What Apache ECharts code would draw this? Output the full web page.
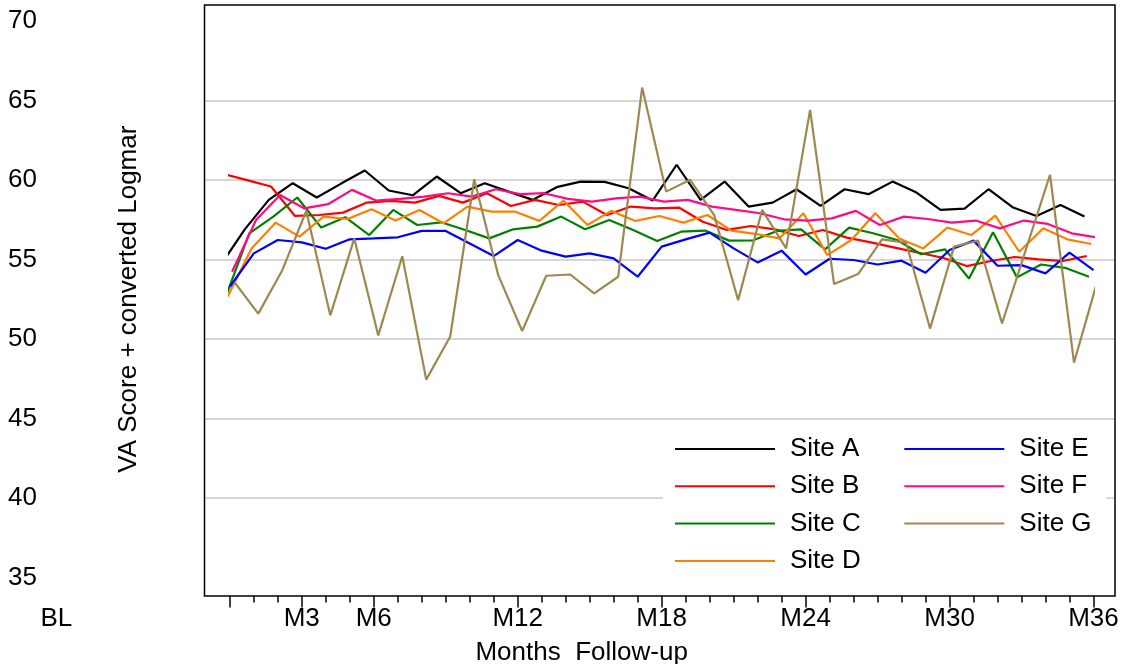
<!DOCTYPE html>
<html><head><meta charset="utf-8">
<script src="https://cdn.jsdelivr.net/npm/echarts@6/dist/echarts.min.js"></script>
<style>html,body{margin:0;padding:0;background:#fff}#c{width:1124px;height:664px}</style>
</head><body><div id="c"></div>
<script>
const months = [0,1,2,3,4,5,6,7,8,9,10,11,12,13,14,15,16,17,18,19,20,21,22,23,24,25,26,27,28,29,30,31,32,33,34,35,36];
const tickLabels = ['BL','M1','M2','M3','M4','M5','M6','M7','M8','M9','M10','M11','M12','M13','M14','M15','M16','M17','M18','M19','M20','M21','M22','M23','M24','M25','M26','M27','M28','M29','M30','M31','M32','M33','M34','M35','M36'];
const majorTicks = [0,3,6,12,18,24,30,36];
const siteNames = ['Site A','Site B','Site C','Site D','Site E','Site F','Site G'];
const siteColors = ['#000000','#ff0000','#008000','#ff8000','#0000ff','#ff0a84','#9c8850'];

const siteA = [54.64,56.89,58.74,59.79,58.89,59.75,60.59,59.33,59.03,60.21,59.16,59.79,59.26,58.74,59.54,59.89,59.87,59.47,58.70,60.95,58.74,59.89,58.32,58.57,59.41,58.36,59.41,59.10,59.89,59.20,58.11,58.19,59.41,58.28,57.73,58.42,57.69];
const siteB = [60.38,59.98,59.58,57.73,57.79,57.94,58.57,58.68,58.57,58.99,58.57,59.16,58.36,58.74,58.42,58.63,57.79,58.32,58.21,58.26,57.37,56.85,57.10,56.89,56.47,56.85,56.37,56.07,55.74,55.42,55.10,54.58,54.90,55.15,55.00,54.90,55.21];
const siteC = [52.58,56.64,57.69,58.89,57.00,57.65,56.53,58.11,57.16,57.33,56.85,56.32,56.89,57.06,57.69,56.89,57.48,56.85,56.16,56.74,56.81,56.18,56.20,56.79,56.89,55.63,57.00,56.64,56.22,55.32,55.63,53.80,56.70,53.87,54.68,54.47,53.91];
const siteD = [52.65,55.69,57.31,56.43,57.69,57.54,58.15,57.44,58.11,57.27,58.32,58.00,58.00,57.42,58.70,57.16,58.05,57.42,57.73,57.31,57.79,56.81,56.60,56.32,57.90,55.27,56.22,57.90,56.32,55.69,57.00,56.53,57.75,55.48,56.95,56.26,55.97];
const siteE = [53.28,55.38,56.22,56.07,55.67,56.26,56.32,56.39,56.79,56.79,56.00,55.21,56.22,55.55,55.17,55.38,55.06,53.91,55.80,56.26,56.68,55.69,54.81,55.55,54.05,55.04,54.96,54.68,54.92,54.16,55.59,56.18,54.60,54.64,54.12,55.42,54.33];
const siteF = [54.22,57.48,59.05,58.21,58.47,59.37,58.70,58.80,58.95,59.16,58.95,59.41,59.10,59.16,58.80,58.63,58.84,58.95,58.63,58.74,58.32,58.11,57.90,57.52,57.44,57.58,58.05,57.16,57.69,57.54,57.31,57.44,56.95,57.44,57.23,56.64,56.39];
const siteG = [53.58,51.59,54.32,58.04,51.48,56.32,50.22,55.20,47.44,50.15,60.04,54.01,50.50,53.97,54.05,52.86,53.91,65.80,59.26,60.00,57.79,52.44,58.11,55.69,64.40,53.45,54.08,56.26,56.05,50.65,55.80,56.18,50.97,55.65,60.32,48.51,53.76];
const siteValues = [siteA, siteB, siteC, siteD, siteE, siteF, siteG];

const FONT = 'Liberation Sans, Arial, sans-serif';
const dodgeStep = 0.094; // small horizontal separation between sites (months)

const series = siteNames.map((name, s) => ({
  name: name,
  type: 'line',
  xAxisIndex: 0,
  yAxisIndex: 0,
  symbol: 'none',
  clip: false,
  color: siteColors[s],
  lineStyle: { color: siteColors[s], width: 2.2 },
  data: siteValues[s].map((v, i) => [months[i] + (s - 4) * dodgeStep, v]),
  z: 2 + s
}));

const legendCommon = {
  orient: 'vertical', itemWidth: 100, itemHeight: 26, itemGap: 11.3, padding: 0,
  itemStyle: { opacity: 0 },
  lineStyle: { width: 2 },
  textStyle: { fontFamily: FONT, fontSize: 26, color: '#000', padding: [0, 0, 0, 10] },
  selectedMode: false, z: 10
};

const chart = echarts.init(document.getElementById('c'), null, { renderer: 'canvas' });
chart.setOption({
  animation: false,
  backgroundColor: '#fff',
  textStyle: { fontFamily: FONT },
  grid: [
    { left: 229.8, right: 30.5, top: 20.8, bottom: 86.5, containLabel: false, outerBoundsMode: 'none' },
    { left: 204.5, right: 9, top: 20.8, bottom: 86.5, containLabel: false, outerBoundsMode: 'none' }
  ],
  graphic: [
    { type: 'rect', z: 1, shape: { x: 663, y: 420, width: 443, height: 175 }, style: { fill: '#fff' } },
    { type: 'rect', z: 20, shape: { x: 204.5, y: 5, width: 910.5, height: 591 }, style: { fill: 'none', stroke: '#000', lineWidth: 1.5 } }
  ],
  legend: [
    Object.assign({}, legendCommon, { data: siteNames.slice(0, 4), left: 674, top: 436 }),
    Object.assign({}, legendCommon, { data: siteNames.slice(4), left: 903.3, top: 436 })
  ],
  xAxis: [
    {
      type: 'value', gridIndex: 0, min: 0, max: 36, interval: 1, position: 'bottom', offset: 18.5,
      axisLine: { show: false },
      axisTick: { show: true, length: 6.5, lineStyle: { color: '#000', width: 1.5 } },
      axisLabel: { show: false }, splitLine: { show: false }
    },
    {
      type: 'category', gridIndex: 0, data: tickLabels, boundaryGap: false, position: 'bottom', offset: 18.5,
      axisLine: { show: false },
      axisTick: { show: true, length: 11.5, interval: (i) => majorTicks.includes(i), lineStyle: { color: '#000', width: 1.5 } },
      axisLabel: {
        interval: (i) => majorTicks.includes(i), margin: 10, fontSize: 26, color: '#000', fontFamily: FONT,
        formatter: (v, i) => i === 0 ? '{bl|' + v + '}' : v,
        rich: { bl: { fontSize: 26, color: '#000', fontFamily: FONT, padding: [0, 347, 0, 0] } }
      },
      splitLine: { show: false },
      name: 'Months  Follow-up', nameLocation: 'middle', nameGap: 44, nameMoveOverlap: false,
      nameTextStyle: { fontSize: 26, color: '#000', fontFamily: FONT, padding: [0, 160, 0, 0] }
    },
    {
      type: 'value', gridIndex: 1, min: 0, max: 1, show: false
    }
  ],
  yAxis: [
    {
      type: 'value', gridIndex: 0, min: 35, max: 70, interval: 5,
      axisLine: { show: false }, axisTick: { show: false },
      axisLabel: { margin: 221.8, align: 'left', fontSize: 26, color: '#000', fontFamily: FONT, padding: [0, 0, 5, 0] },
      splitLine: { show: false },
      name: 'VA Score + converted Logmar', nameLocation: 'middle', nameGap: 88, nameMoveOverlap: false,
      nameTextStyle: { fontSize: 26, color: '#000', fontFamily: FONT }
    },
    {
      type: 'value', gridIndex: 1, min: 35, max: 70, interval: 5,
      axisLine: { show: false }, axisTick: { show: false }, axisLabel: { show: false },
      splitLine: { show: true, showMinLine: false, showMaxLine: false, lineStyle: { color: '#c8c8c8', width: 1.5 } }
    }
  ],
  series: series
});
</script></body></html>
